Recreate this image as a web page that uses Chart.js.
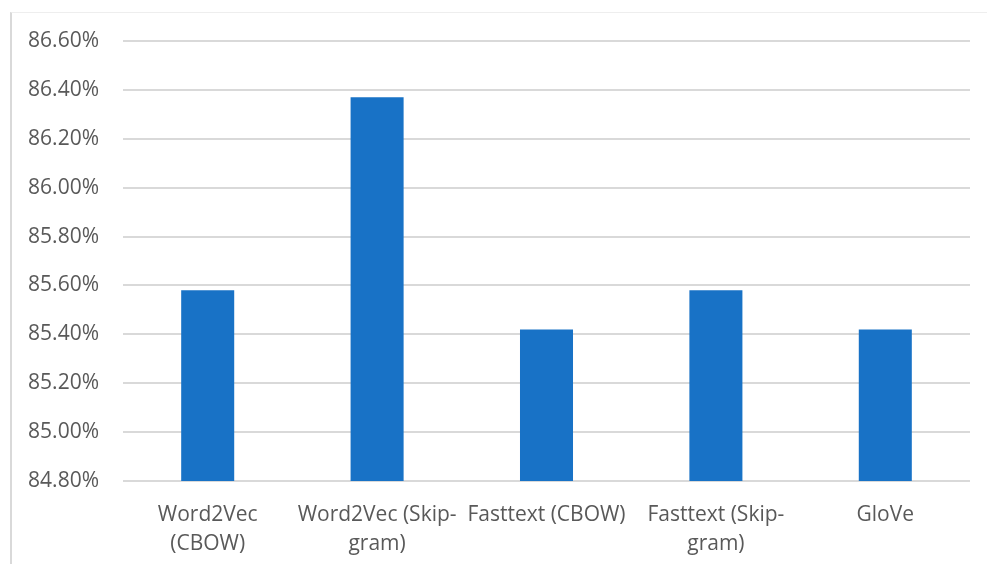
<!DOCTYPE html>
<html>
<head>
<meta charset="utf-8">
<script src="https://cdn.jsdelivr.net/npm/chart.js@4/dist/chart.umd.min.js"></script>
<style>
  html, body { margin: 0; padding: 0; background: #fff; }
  #frame {
    position: absolute; left: 10px; top: 12px; right: 0; bottom: 0;
    border-left: 2px solid #d9d9d9; border-top: 1px solid #eeeeee;
  }
  #wrap { position: absolute; left: 0; top: 0; width: 987px; height: 564px; }
</style>
</head>
<body>
<div id="frame"></div>
<div id="wrap"><canvas id="chart" width="987" height="564"></canvas></div>
<script>
// categories (multi-line as in the original axis)
const categories = [
    ["Word2Vec", "(CBOW)"],
    ["Word2Vec (Skip-", "gram)"],
    "Fasttext (CBOW)",
    ["Fasttext (Skip-", "gram)"],
    "GloVe"
];
// accuracy in percent
const accuracy = [85.58, 86.37, 85.42, 85.58, 85.42];
const yMin = 84.8, yMax = 86.6, yStep = 0.2;

const ctx = document.getElementById('chart').getContext('2d');
const chart = new Chart(ctx, {
    type: 'bar',
    data: {
        labels: categories,
        datasets: [{
            data: accuracy,
            backgroundColor: '#1872c6',
            borderWidth: 0,
            barPercentage: 0.313,
            categoryPercentage: 1.0
        }]
    },
    options: {
        responsive: false,
        animation: false,
        layout: { padding: { top: 41, right: 17, bottom: 0, left: 0 } },
        plugins: { legend: { display: false }, tooltip: { enabled: false } },
        scales: {
            x: {
                grid: { display: false },
                border: { display: false },
                ticks: {
                    color: '#595959',
                    font: { family: 'Open Sans', size: 21, lineHeight: 1.38 },
                    padding: 12,
                    maxRotation: 0,
                    autoSkip: false
                },
                afterFit: function(scale) { scale.height = 83; }
            },
            y: {
                min: yMin,
                max: yMax,
                grid: { color: '#d9d9d9', lineWidth: 2, drawTicks: false },
                border: { display: false },
                ticks: {
                    stepSize: yStep,
                    color: '#595959',
                    font: { family: 'Open Sans', size: 21 },
                    padding: 24,
                    callback: function(v) { return v.toFixed(2) + '%'; }
                },
                afterFit: function(scale) { scale.width = 123; }
            }
        }
    }
});
</script>
</body>
</html>
